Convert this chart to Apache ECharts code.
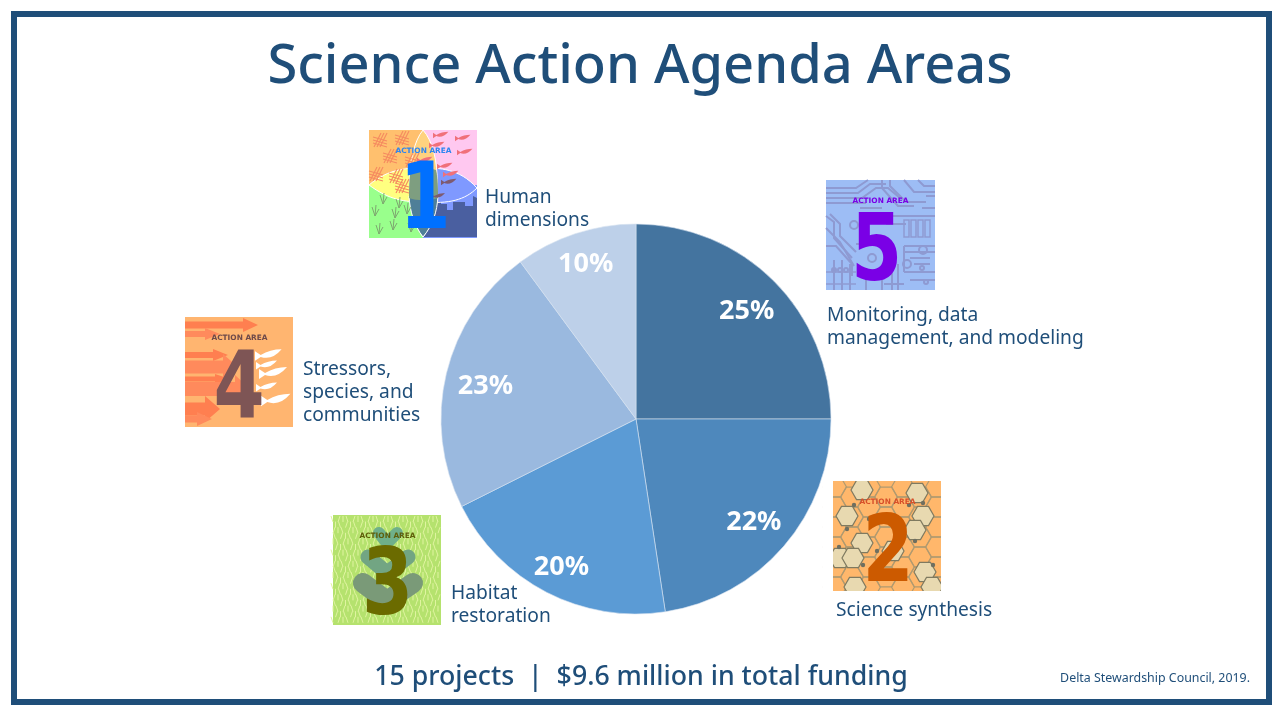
<!DOCTYPE html>
<html>
<head>
<meta charset="utf-8">
<title>Science Action Agenda Areas</title>
<script src="https://cdn.jsdelivr.net/npm/echarts@6/dist/echarts.min.js"></script>
<style>
html, body { margin: 0; padding: 0; background: #fff; }
#chart { width: 1280px; height: 720px; }
</style>
</head>
<body>
<div id="chart"></div>
<script>
var areaNames = ['Monitoring, data management, and modeling', 'Science synthesis', 'Habitat restoration', 'Stressors, species, and communities', 'Human dimensions'];
// slice sizes, the printed percents are rounded differently
var areaShares = [25, 22.6, 20, 22.3, 10.1];
var shareLabels = ['25%', '22%', '20%', '23%', '10%'];
var sliceColors = ['#44749F', '#4E88BC', '#5B9BD5', '#9AB9DF', '#BDD0E9'];
// small nudges for the percent labels
var labelNudgeX = [-1, -2, -2, 3, -1];
var labelNudgeY = [4, 0, 8, 4, -5];

var titleText = 'Science Action Agenda Areas';
var footerText = '15 projects  |  $9.6 million in total funding';
var creditText = 'Delta Stewardship Council, 2019.';

var navy = '#1F4E79';
var fontName = '"Noto Sans", "Open Sans", sans-serif';

var myChart = echarts.init(document.getElementById('chart'));

// label next to each icon
function areaLabel(x, y, text) {
    return {
        type: 'text', x: x, y: y, z: 20,
        style: { text: text, fill: navy, font: '19.2px ' + fontName, lineHeight: 23, textVerticalAlign: 'top' }
    };
}

// the graphic component has no path type, so each svg path gets its own shape
var pathCount = 0;
function path(d, fill, stroke, width, round) {
    var name = 'iconPath' + (pathCount++);
    echarts.graphic.registerShape(name, echarts.graphic.extendPath(d));
    return {
        type: name,
        style: {
            fill: fill || 'none', stroke: stroke || 'none', lineWidth: width || 1,
            lineCap: round ? 'round' : 'butt', lineJoin: round ? 'round' : 'miter'
        }
    };
}

function rect(x, y, w, h, fill) {
    return { type: 'rect', shape: { x: x, y: y, width: w, height: h }, style: { fill: fill } };
}

function line(x1, y1, x2, y2, color, width) {
    return { type: 'line', shape: { x1: x1, y1: y1, x2: x2, y2: y2 }, style: { stroke: color, lineWidth: width || 1 } };
}

function circle(cx, cy, r, fill, stroke, width) {
    return { type: 'circle', shape: { cx: cx, cy: cy, r: r }, style: { fill: fill || 'none', stroke: stroke || 'none', lineWidth: width || 1 } };
}

// shared "ACTION AREA" caption and big digit of every icon
function iconText(digit, captionColor, digitColor, digitX, digitY) {
    return [
        {
            type: 'text', x: digitX, y: digitY, z: 5, scaleX: 0.8,
            style: { text: digit, fill: digitColor, font: 'bold 92px "DejaVu Sans", sans-serif', textAlign: 'center', textVerticalAlign: 'middle' }
        },
        {
            type: 'text', x: 54.5, y: 21, z: 6,
            style: { text: 'ACTION AREA', fill: captionColor, font: 'bold 7.4px "DejaVu Sans", sans-serif', textAlign: 'center', textVerticalAlign: 'middle' }
        }
    ];
}

function fish(x, y, color, s) {
    var d = 'M' + x + ' ' + (y - 2 * s) + ' L' + (x + 3 * s) + ' ' + y
        + ' Q' + (x + 8 * s) + ' ' + (y - 3 * s) + ' ' + (x + 14 * s) + ' ' + (y - 3 * s)
        + ' Q' + (x + 9 * s) + ' ' + (y + 3 * s) + ' ' + (x + 3 * s) + ' ' + (y + 1 * s)
        + ' L' + x + ' ' + (y + 3 * s) + ' Z';
    return path(d, color);
}

function icon1() {
    var c = [
        rect(0, 0, 54, 55, '#FFC06E'), rect(54, 0, 54, 55, '#FFC8F0'),
        rect(0, 55, 54, 53, '#99FF8C'), rect(54, 55, 54, 53, '#7F99FF'),
        path('M54 60 V107 H108 V68 L104 66 V76 H96 V72 H84 V80 H78 V74 H72 V60 H66 V84 H54 Z', '#4A5FA0'),
        path('M0 55 C20 38 40 38 54 38 V72 C36 72 20 70 0 55 Z', '#FFFF80', '#fff', 1),
        path('M108 58 C90 38 70 38 54 38 V72 C80 74 96 70 108 58 Z', '#7F99FF', '#fff', 1),
        path('M54 0 C36 22 36 85 54 107 C72 85 74 22 54 0 Z', '#FFD27F', '#fff', 1),
        path('M40 66 C41 82 45 95 54 107 C64 95 68 82 69 66 Z', '#4F7F98', '#fff', 1),
        path('M42 40 C40 48 40 60 40 68 C48 71 60 71 69 68 C69 60 69 48 67 40 C60 38 48 38 42 40 Z', '#7E9E80')
    ];
    var hatchX = [12, 34, 22, 44, 8, 34, 28], hatchY = [10, 8, 26, 30, 44, 56, 46];
    hatchX.forEach(function (x, i) {
        for (var k = 0; k < 3; k++) {
            c.push(line(x + k * 3, hatchY[i] - 7, x + k * 3 - 7, hatchY[i] + 7, '#F58A60', 1.1));
            c.push(line(x - 8, hatchY[i] - 3 + k * 3, x + 6, hatchY[i] + 1 + k * 3, '#F58A60', 1.1));
        }
    });
    var fishX = [64, 86, 60, 88, 68, 48, 74], fishY = [5, 8, 15, 22, 36, 30, 44];
    fishX.forEach(function (x, i) { c.push(fish(x, fishY[i], '#F0707A', 1.1)); });
    c.push(fish(72, 52, '#7E5A70', 1.1), fish(62, 66, '#7E5A70', 1));
    var grassX = [6, 14, 26, 38, 10, 24, 42, 30], grassY = [86, 74, 88, 84, 104, 100, 102, 78];
    grassX.forEach(function (x, i) {
        c.push(line(x, grassY[i], x - 3, grassY[i] - 9, '#7EA870', 1));
        c.push(line(x, grassY[i], x + 1, grassY[i] - 11, '#7EA870', 1));
        c.push(line(x, grassY[i], x + 4, grassY[i] - 7, '#7EA870', 1));
    });
    return c.concat(iconText('1', '#2E86F0', '#0070FF', 56, 74));
}

function icon5() {
    var trace = '#8E9AD2';
    var c = [rect(0, 0, 109, 110, '#9DBDF5')];
    var traces = [
        'M0 8 H30 L42 0', 'M0 13 H32 L44 4 H60', 'M0 18 H36 L50 8 H62 L74 18', 'M0 23 H40', 'M56 0 V8 L72 26 H88', 'M64 0 V6 L80 22 H100',
        'M78 0 L88 12 H109', 'M92 0 L98 6 H109', 'M100 16 H109 M96 28 H109', 'M0 36 L8 42 V58 L26 78', 'M4 34 L14 44 V56 L30 72',
        'M0 66 H10 L26 84 V96', 'M0 48 L14 62 L28 86', 'M8 80 V110', 'M16 80 V110', 'M24 84 V110', 'M40 94 V110', 'M46 90 L56 98 V110',
        'M66 90 V110 M72 84 V110', 'M78 66 H109', 'M78 72 H109', 'M78 92 H109', 'M78 66 V92', 'M84 100 H109', 'M60 36 H109', 'M60 44 H80',
        'M34 28 H56', 'M30 64 H50', 'M58 104 H78', 'M84 78 H104 M88 84 H104'
    ];
    traces.forEach(function (d) { c.push(path(d, null, trace, 2)); });
    var barsX = [78, 85, 92, 99];
    barsX.forEach(function (x) { c.push(path('M' + x + ' 40 h5 v17 h-5 Z', null, trace, 1.5)); });
    var padX = [28, 46, 81, 97, 8, 14, 20, 96, 100], padY = [45, 78, 84, 70, 90, 90, 90, 88, 102];
    padX.forEach(function (x, i) { c.push(circle(x, padY[i], i < 4 ? 4 : 2, null, trace, 2)); });
    c.push(path('M0 104 H30 M0 92 H30', null, trace, 1.5));
    return c.concat(iconText('5', '#7A00E6', '#7A00E6', 50.5, 76));
}

function arrow(y, len, h, color) {
    var d = 'M0 ' + (y - h / 2) + ' H' + len + ' V' + (y - h) + ' L' + (len + 15) + ' ' + y + ' L' + len + ' ' + (y + h) + ' V' + (y + h / 2) + ' H0 Z';
    return path(d, color);
}

function icon4() {
    var c = [rect(0, 0, 108, 110, '#FFB570')];
    var arrowLen = [58, 20, 28, 38, 30, 50, 20, 12];
    var arrowY = [8, 17, 38, 50, 62, 72, 92, 102];
    var arrowHeight = [7, 6, 6, 13, 5, 14, 13, 7];
    arrowLen.forEach(function (len, i) { c.push(arrow(arrowY[i], len, arrowHeight[i], i % 2 ? '#FF8A5C' : '#FF7F50')); });
    var fishX = [70, 71, 74, 71, 76], fishY = [38, 48, 56, 70, 83];
    var fishSize = [1.9, 1.5, 2, 1.5, 2.1];
    fishX.forEach(function (x, i) { c.push(fish(x, fishY[i], '#FFFFFF', fishSize[i])); });
    return c.concat(iconText('4', '#6E4A4A', '#7E5555', 54, 76.5));
}

function icon3() {
    var c = [rect(0, 0, 108, 110, '#B5E26E')];
    // grass blades on a fixed lattice
    for (var r = 0; r < 19; r++) {
        for (var k = 0; k < 22; k++) {
            var x = k * 5 + (r % 2) * 2.5, y = r * 5.6 + 7;
            if (x < 107) {
                c.push(line(x, y, x + ((k * 2 + r) % 3 - 1) * 2, y - 6, '#E0F4A0', 1));
            }
        }
    }
    c.push(path('M46 18 L54 28 L64 18', null, '#6FB08A', 12, true));
    c.push(path('M35 42 L54 58 L75 42', null, '#72A583', 15, true));
    c.push(path('M30 68 L54 86 L80 68', null, '#7A9A78', 20, true));
    return c.concat(iconText('3', '#5F5F0A', '#6B6B00', 54.5, 75));
}

function hex(cx, cy, r, fill, stroke) {
    var h = r * 0.866;
    var d = 'M' + (cx - r) + ' ' + cy + ' L' + (cx - r / 2) + ' ' + (cy - h) + ' H' + (cx + r / 2) + ' L' + (cx + r) + ' ' + cy
        + ' L' + (cx + r / 2) + ' ' + (cy + h) + ' H' + (cx - r / 2) + ' Z';
    return path(d, fill, stroke, 1.2);
}

function icon2() {
    var c = [rect(0, 0, 108, 110, '#FFB76B')];
    // honeycomb outlines behind the filled cells
    for (var col = 0; col < 7; col++) {
        for (var row = 0; row < 6; row++) {
            var cy = row * 20 + (col % 2) * 10 + 6;
            if (cy < 112) {
                c.push(hex(col * 17 + 2, cy, 11.5, 'none', '#B09A70'));
            }
        }
    }
    var hexX = [29, 14, 90, 82, 29, 7, 20, 92, 22, 99, 84, 60];
    var hexY = [9, 35, 35, 49, 62, 77, 77, 91, 106, 106, 12, 70];
    hexX.forEach(function (x, i) { c.push(hex(x, hexY[i], 11, '#E8D9B0', '#7F7A60')); });
    var dotX = [21, 14, 36, 76, 90, 44, 62, 82, 30, 6, 100];
    var dotY = [24, 48, 38, 24, 22, 70, 58, 60, 84, 66, 84];
    dotX.forEach(function (x, i) { c.push(circle(x, dotY[i], 2.2, '#6F6F60')); });
    // white strips hide the cells that run past the tile
    c.push(rect(-10, -10, 128, 10, '#fff'), rect(-10, 110, 128, 10, '#fff'), rect(-10, 0, 10, 110, '#fff'), rect(108, 0, 10, 110, '#fff'));
    return c.concat(iconText('2', '#D8502A', '#CC5A00', 55, 76.5));
}

function iconGroup(x, y, children) {
    return { type: 'group', x: x, y: y, z: 10, children: children };
}

var option = {
    backgroundColor: '#fff',
    animation: false,
    title: {
        text: titleText,
        left: 'center',
        top: 36,
        textStyle: { color: navy, fontFamily: fontName, fontSize: 54.2, fontWeight: 500 }
    },
    series: [
        {
            // the slices
            type: 'pie',
            center: [636, 419],
            radius: 195,
            startAngle: 90,
            clockwise: true,
            silent: true,
            label: { show: false },
            labelLine: { show: false },
            itemStyle: { borderColor: '#D6E2F0', borderWidth: 0.6 },
            data: areaShares.map(function (v, i) {
                return { name: areaNames[i], value: v, itemStyle: { color: sliceColors[i] } };
            })
        },
        {
            // invisible ring that puts the percent labels near the rim
            type: 'pie',
            center: [636, 419],
            radius: [115, 195],
            startAngle: 90,
            clockwise: true,
            silent: true,
            itemStyle: { color: 'transparent' },
            labelLine: { show: false },
            labelLayout: function (params) {
                return { dx: labelNudgeX[params.dataIndex], dy: labelNudgeY[params.dataIndex] };
            },
            label: {
                show: true,
                position: 'inside',
                formatter: function (params) {
                    return shareLabels[params.dataIndex];
                },
                color: '#fff',
                fontFamily: fontName,
                fontSize: 27,
                fontWeight: 'bold'
            },
            data: areaShares.map(function (v, i) {
                return { name: areaNames[i], value: v };
            })
        }
    ],
    graphic: [
        { type: 'rect', z: 1, shape: { x: 14, y: 14, width: 1255, height: 688 }, style: { fill: 'none', stroke: navy, lineWidth: 6 } },
        iconGroup(369, 130, icon1()),
        iconGroup(826, 180, icon5()),
        iconGroup(185, 317, icon4()),
        iconGroup(333, 515, icon3()),
        iconGroup(833, 481, icon2()),
        areaLabel(485, 186, 'Human\ndimensions'),
        areaLabel(827, 304, 'Monitoring, data\nmanagement, and modeling'),
        areaLabel(303, 358, 'Stressors,\nspecies, and\ncommunities'),
        areaLabel(451, 582, 'Habitat\nrestoration'),
        areaLabel(836, 599, 'Science synthesis'),
        {
            type: 'text', x: 641, y: 677, z: 20,
            style: { text: footerText, fill: navy, font: '500 26.7px ' + fontName, textAlign: 'center', textVerticalAlign: 'middle' }
        },
        {
            type: 'text', x: 1250, y: 678, z: 20,
            style: { text: creditText, fill: navy, font: '12.4px ' + fontName, textAlign: 'right', textVerticalAlign: 'middle' }
        }
    ]
};

myChart.setOption(option);
</script>
</body>
</html>
